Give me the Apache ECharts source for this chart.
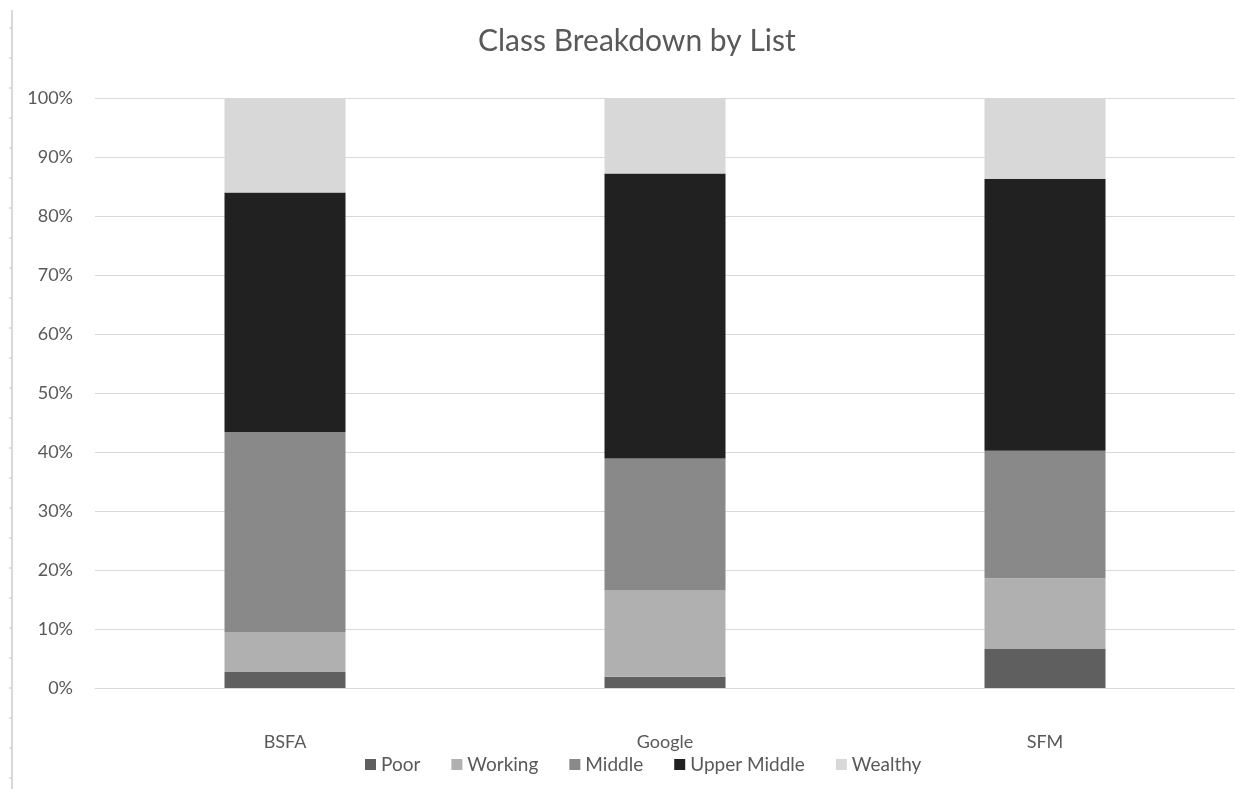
<!DOCTYPE html>
<html>
<head>
<meta charset="utf-8">
<script src="https://cdn.jsdelivr.net/npm/echarts@6/dist/echarts.min.js"></script>
<style>
html,body{margin:0;padding:0;background:#fff;}
#chart{width:1235px;height:789px;}
</style>
</head>
<body>
<div id="chart"></div>
<script>
const categories = ['BSFA', 'Google', 'SFM'];
const seriesNames = ['Poor', 'Working', 'Middle', 'Upper Middle', 'Wealthy'];
const poor = [2.7, 1.9, 6.7];
const working = [6.8, 14.7, 11.9];
const middle = [33.9, 22.3, 21.6];
const upperMiddle = [40.6, 48.3, 46.1];
const wealthy = [16.0, 12.8, 13.7];
const colors = ['#5f5f5f', '#b0b0b0', '#898989', '#212121', '#d8d8d8'];

const seriesData = [poor, working, middle, upperMiddle, wealthy];
const font = 'Lato, "Open Sans", sans-serif';

const chart = echarts.init(document.getElementById('chart'));

const ticks = [];
for (let y = 28; y < 789; y += 30) {
  ticks.push({type: 'line', shape: {x1: 9, y1: y, x2: 12, y2: y}, style: {stroke: '#c8c8c8', lineWidth: 1}});
}

chart.setOption({
  animation: false,
  backgroundColor: '#ffffff',
  title: {
    text: 'Class Breakdown by List',
    left: 478,
    top: 26,
    padding: 0,
    textStyle: {fontFamily: font, fontSize: 30, fontWeight: 'normal', color: '#595959'}
  },
  legend: {
    data: seriesNames,
    top: 755,
    left: 365,
    padding: 0,
    itemWidth: 11,
    itemHeight: 11,
    itemGap: 31,
    icon: 'rect',
    textStyle: {fontFamily: font, fontSize: 19, color: '#595959'}
  },
  grid: {left: 95, top: 98, width: 1140, bottom: 101, containLabel: false},
  xAxis: {
    type: 'category',
    data: categories,
    axisTick: {show: false},
    axisLine: {lineStyle: {color: '#d9d9d9', width: 1}},
    axisLabel: {fontFamily: font, fontSize: 18, color: '#595959', margin: 45}
  },
  yAxis: {
    type: 'value',
    min: 0,
    max: 100,
    interval: 10,
    axisLine: {show: false},
    axisTick: {show: false},
    splitLine: {lineStyle: {color: '#d9d9d9', width: 1}},
    axisLabel: {fontFamily: font, fontSize: 18, color: '#595959', margin: 22, formatter: '{value}%'}
  },
  graphic: [
    {type: 'line', shape: {x1: 12, y1: 10, x2: 12, y2: 789}, style: {stroke: '#d9d9d9', lineWidth: 2}}
  ].concat(ticks),
  series: seriesNames.map((name, i) => ({
    name: name,
    type: 'bar',
    stack: 'total',
    barWidth: 121,
    data: seriesData[i],
    itemStyle: {color: colors[i]}
  }))
});
</script>
</body>
</html>
